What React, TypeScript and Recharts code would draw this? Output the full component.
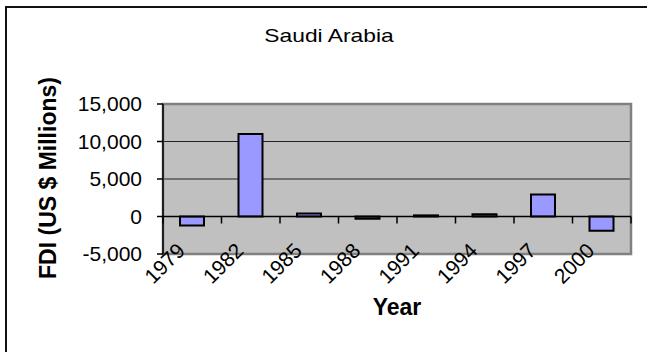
import {
  BarChart,
  Bar,
  XAxis,
  YAxis,
  CartesianGrid,
  ReferenceLine,
  ReferenceArea,
} from "recharts";

const years = ["1979", "1982", "1985", "1988", "1991", "1994", "1997", "2000"];
const fdiMillions = [-1200, 11000, 400, -300, 150, 300, 2950, -1900];
const yTicks = [-5000, 0, 5000, 10000, 15000];

const data = years.map((year, i) => ({ year, fdi: fdiMillions[i] }));

const WIDTH = 647;
const HEIGHT = 352;
const X_AXIS_HEIGHT = 30;
const MARGIN = { top: 104, right: 16, bottom: 98 - X_AXIS_HEIGHT, left: 0 };
const Y_AXIS_WIDTH = 163;
const FONT = '"Liberation Sans", Arial, sans-serif';

const plotWidth = WIDTH - MARGIN.left - Y_AXIS_WIDTH - MARGIN.right;
const plotHeight = HEIGHT - MARGIN.top - MARGIN.bottom - X_AXIS_HEIGHT;
const yMin = yTicks[0];
const yMax = yTicks[yTicks.length - 1];
// pixel row of the value 0, where the category ticks hang
const zeroY = MARGIN.top + (yMax / (yMax - yMin)) * plotHeight;
const band = plotWidth / years.length;

// rotated year label plus the small boundary tick on the zero line
function YearTick(props: any) {
  const { x, y, payload, index } = props;
  const left = x - band / 2;
  return (
    <g>
      <line x1={left} x2={left} y1={zeroY} y2={zeroY + 7} stroke="#000" strokeWidth={1.5} />
      {index === years.length - 1 && (
        <line x1={x + band / 2} x2={x + band / 2} y1={zeroY} y2={zeroY + 7} stroke="#000" strokeWidth={1.5} />
      )}
      <text
        transform={`translate(${x - 6},${y - 2}) rotate(-45)`}
        textAnchor="end"
        fontFamily={FONT}
        fontSize={21}
        fill="#000"
      >
        {payload.value}
      </text>
    </g>
  );
}

export default function App() {
  return (
    <div
      style={{
        position: "absolute",
        left: 0,
        top: 0,
        width: WIDTH,
        height: HEIGHT,
        overflow: "hidden",
        background: "#fff",
        fontFamily: FONT,
      }}
    >
      {/* chart frame: only its top and left edges fall inside the page */}
      <div style={{ position: "absolute", left: 5, top: 6, width: WIDTH - 5, height: 2, background: "#111" }} />
      <div style={{ position: "absolute", left: 5, top: 6, width: 2, height: HEIGHT - 6, background: "#111" }} />
      <div
        style={{
          position: "absolute",
          left: 329,
          top: 26,
          transform: "translateX(-50%) scaleX(1.2)",
          whiteSpace: "nowrap",
          fontSize: 19,
          lineHeight: "19px",
          color: "#000",
        }}
      >
        Saudi Arabia
      </div>

      <BarChart width={WIDTH} height={HEIGHT} data={data} margin={MARGIN}>
        <CartesianGrid
          vertical={false}
          fill="#C0C0C0"
          stroke="#222"
          strokeWidth={1}
        />
        <ReferenceArea
          y1={yMin}
          y2={yMax}
          fill="none"
          stroke="#808080"
          strokeWidth={2.5}
          fillOpacity={0}
        />
        <XAxis
          dataKey="year"
          height={X_AXIS_HEIGHT}
          axisLine={false}
          tickLine={false}
          tickSize={0}
          tickMargin={0}
          interval={0}
          tick={<YearTick />}
        />
        <YAxis
          width={Y_AXIS_WIDTH}
          domain={[yMin, yMax]}
          ticks={yTicks}
          tickFormatter={(v: number) => v.toLocaleString("en-US")}
          axisLine={{ stroke: "#000", strokeWidth: 1.5 }}
          tickLine={{ stroke: "#000", strokeWidth: 1.5 }}
          tickSize={6}
          tickMargin={15}
          tick={{ fill: "#000", fontSize: 21, fontFamily: FONT }}
        />
        <ReferenceLine y={0} stroke="#000" strokeWidth={1.5} />
        <Bar
          dataKey="fdi"
          fill="#9999FF"
          stroke="#000"
          strokeWidth={2}
          barSize={24}
          isAnimationActive={false}
        />
      </BarChart>

      <div
        style={{
          position: "absolute",
          left: 47.5,
          top: 178,
          transform: "translate(-50%, -50%) rotate(-90deg)",
          whiteSpace: "nowrap",
          fontSize: 23,
          lineHeight: "23px",
          fontWeight: "bold",
          color: "#000",
        }}
      >
        FDI (US $ Millions)
      </div>
      <div
        style={{
          position: "absolute",
          left: 397,
          top: 296,
          transform: "translateX(-50%)",
          whiteSpace: "nowrap",
          fontSize: 23,
          lineHeight: "23px",
          fontWeight: "bold",
          color: "#000",
        }}
      >
        Year
      </div>
    </div>
  );
}
